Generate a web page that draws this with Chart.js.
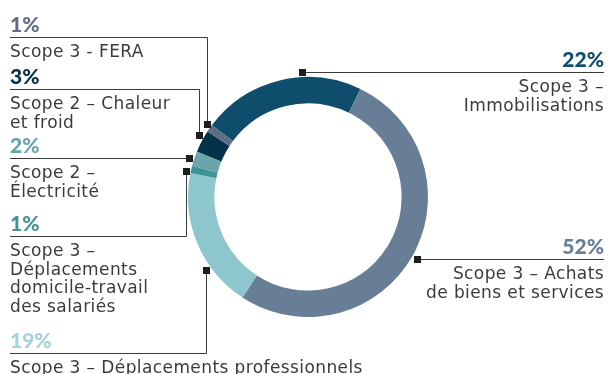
<!DOCTYPE html>
<html>
<head>
<meta charset="utf-8">
<script src="https://cdn.jsdelivr.net/npm/chart.js@4.4.1/dist/chart.umd.min.js"></script>
<style>
  html, body { margin: 0; padding: 0; background: #ffffff; }
  #wrap { position: relative; width: 608px; height: 374px; }
</style>
</head>
<body>
<div id="wrap"><canvas id="c" width="608" height="374"></canvas></div>
<script>
// Répartition des émissions par poste (en %)
const categories = [
  'Scope 3 – Immobilisations',
  'Scope 3 – Achats de biens et services',
  'Scope 3 – Déplacements professionnels',
  'Scope 3 – Déplacements domicile-travail des salariés',
  'Scope 2 – Électricité',
  'Scope 2 – Chaleur et froid',
  'Scope 3 - FERA'
];
const values = [22, 52, 19, 1, 2, 3, 1];
const segmentColors = ['#0e4d6b', '#687e97', '#8dc6cd', '#3f9399', '#6aa5ab', '#04324a', '#5d6e85'];
const labelColors   = ['#0e4d6b', '#687e97', '#a3d2d8', '#3f9399', '#6aa5ab', '#04324a', '#5d6e85'];

// Texte des étiquettes (lignes affichées sous le pourcentage)
const labelLines = [
  ['Scope 3 –', 'Immobilisations'],
  ['Scope 3 – Achats', 'de biens et services'],
  ['Scope 3 – Déplacements professionnels'],
  ['Scope 3 –', 'Déplacements', 'domicile-travail', 'des salariés'],
  ['Scope 2 –', 'Électricité'],
  ['Scope 2 – Chaleur', 'et froid'],
  ['Scope 3 - FERA']
];

// Mise en page des étiquettes : position du repère dans l'arc (fraction),
// côté, ordonnée de la ligne de rappel
const calloutLayout = [
  { frac: 0.64, side: 'right', lineY: null },
  { frac: 0.50, side: 'right', lineY: null },
  { frac: 0.31, side: 'left',  lineY: 353 },
  { frac: 0.10, side: 'left',  lineY: 236 },
  { frac: 0.40, side: 'left',  lineY: null },
  { frac: 0.68, side: 'left',  lineY: 89 },
  { frac: 0.78, side: 'left',  lineY: 37 }
];

const LEFT_X = 10, RIGHT_X = 604;
const TEXT_FONT = '17px "DejaVu Sans", sans-serif';
const PCT_FONT = '900 21px "Lato", sans-serif';
const LINE_H = 18.5;

const callouts = {
  id: 'callouts',
  afterDatasetsDraw(chart) {
    const ctx = chart.ctx;
    const arcs = chart.getDatasetMeta(0).data;
    ctx.save();
    arcs.forEach((arc, i) => {
      const p = arc.getProps(['x', 'y', 'startAngle', 'endAngle', 'outerRadius'], true);
      const lay = calloutLayout[i];
      const a = p.startAngle + lay.frac * (p.endAngle - p.startAngle);
      const r = p.outerRadius + 5;
      const mx = Math.round(p.x + r * Math.cos(a));
      const my = Math.round(p.y + r * Math.sin(a));
      const ly = lay.lineY === null ? my : lay.lineY;

      // ligne de rappel
      ctx.strokeStyle = '#3a3a3a';
      ctx.lineWidth = 1;
      ctx.beginPath();
      if (lay.side === 'right') {
        ctx.moveTo(mx, ly + 0.5);
        ctx.lineTo(RIGHT_X, ly + 0.5);
      } else {
        ctx.moveTo(mx + 0.5, my);
        ctx.lineTo(mx + 0.5, ly + 0.5);
        ctx.lineTo(LEFT_X, ly + 0.5);
      }
      ctx.stroke();

      // repère carré
      ctx.fillStyle = '#1e1e1e';
      ctx.fillRect(mx - 3, my - 3, 7, 7);

      // pourcentage et libellé
      const tx = lay.side === 'right' ? RIGHT_X : LEFT_X;
      ctx.textAlign = lay.side === 'right' ? 'right' : 'left';
      ctx.textBaseline = 'alphabetic';
      ctx.letterSpacing = '0px';
      ctx.font = PCT_FONT;
      ctx.fillStyle = labelColors[i];
      ctx.fillText(values[i] + '%', tx, ly - 5);
      ctx.font = TEXT_FONT;
      ctx.letterSpacing = '0.4px';
      ctx.fillStyle = '#3b3b3b';
      labelLines[i].forEach((t, k) => {
        ctx.fillText(t, tx, ly + 20 + k * LINE_H);
      });
    });
    ctx.restore();
  }
};

new Chart(document.getElementById('c'), {
  type: 'doughnut',
  data: {
    labels: categories,
    datasets: [{
      data: values,
      backgroundColor: segmentColors,
      borderWidth: 0
    }]
  },
  options: {
    responsive: false,
    animation: false,
    rotation: -53.3,
    cutout: '78%',
    layout: { padding: { left: 188, right: 180, top: 77, bottom: 57 } },
    plugins: {
      legend: { display: false },
      tooltip: { enabled: false }
    }
  },
  plugins: [callouts]
});
</script>
</body>
</html>
